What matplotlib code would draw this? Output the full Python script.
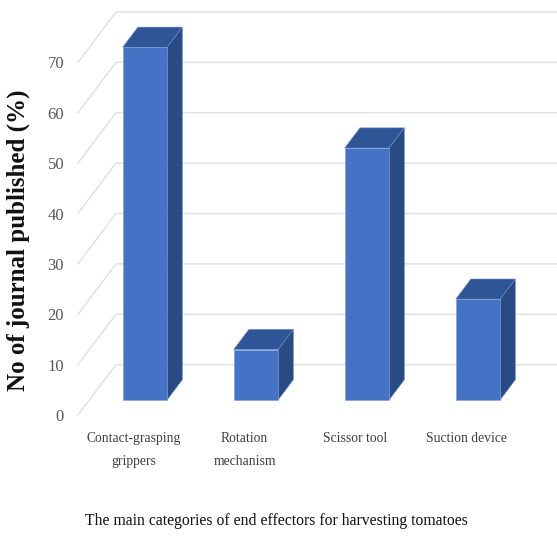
import matplotlib.pyplot as plt
from matplotlib.patches import Polygon, Rectangle

plt.rcParams['font.family'] = ['Liberation Serif', 'DejaVu Serif']

categories = ["Contact-grasping\ngrippers", "Rotation\nmechanism", "Scissor tool", "Suction device"]
values = [70, 10, 50, 20]
y_ticks = [0, 10, 20, 30, 40, 50, 60, 70]

# fake 3d: floor depth vector in data units (x in categories, y in %)
ddx, ddy = 0.342, 10
bar_w = 0.4
d_front, d_back = 0.3, 0.7

front_c = "#4472C4"
top_c = "#2F5597"
side_c = "#294A83"
grid_c = "#E2E2E2"

fig = plt.figure(figsize=(5.57, 5.38), dpi=100)
ax = fig.add_axes([78 / 557, 123 / 538, 479 / 557, 403 / 538])
xmax = 3.815
ax.set_xlim(-0.5, xmax)
ax.set_ylim(0, 80)

# gridlines: diagonal on the left side wall, then across the back wall
for v in y_ticks:
    ax.plot([-0.5, -0.5 + ddx, xmax], [v, v + ddy, v + ddy],
            color=grid_c, lw=1.1, zorder=1, clip_on=False)

bx, by = (d_back - d_front) * ddx, (d_back - d_front) * ddy
for i, v in enumerate(values):
    x0 = i - bar_w / 2 + d_front * ddx
    y0 = d_front * ddy
    side = Polygon([(x0 + bar_w, y0), (x0 + bar_w + bx, y0 + by),
                    (x0 + bar_w + bx, y0 + v + by), (x0 + bar_w, y0 + v)],
                   closed=True, fc=side_c, ec="#5B7FC0", lw=0.4, zorder=3)
    top = Polygon([(x0, y0 + v), (x0 + bar_w, y0 + v),
                   (x0 + bar_w + bx, y0 + v + by), (x0 + bx, y0 + v + by)],
                  closed=True, fc=top_c, ec="#6F8FCC", lw=0.4, zorder=3)
    front = Rectangle((x0, y0), bar_w, v, fc=front_c, ec="#7F9FDA", lw=0.4, zorder=4)
    ax.add_patch(side)
    ax.add_patch(top)
    ax.add_patch(front)

for s in ax.spines.values():
    s.set_visible(False)

ax.set_yticks(y_ticks)
ax.set_yticklabels([str(t) for t in y_ticks], fontsize=12, color="#595959")
ax.tick_params(axis="y", length=0, pad=10)

ax.set_xticks(range(len(categories)))
ax.set_xticklabels(categories, fontsize=9.8, color="#404040", linespacing=2.0)
ax.tick_params(axis="x", length=0, pad=12)

fig.text(18.5 / 557, 1 - 240.5 / 538, "No of journal published (%)", rotation=90,
         ha="center", va="center", fontsize=18, fontweight="bold", color="#111111")
fig.text(276.5 / 557, 1 - 521 / 538,
         "The main categories of end effectors for harvesting tomatoes",
         ha="center", va="center", fontsize=11.3, color="#111111")

fig.savefig("out.png", dpi=100)
